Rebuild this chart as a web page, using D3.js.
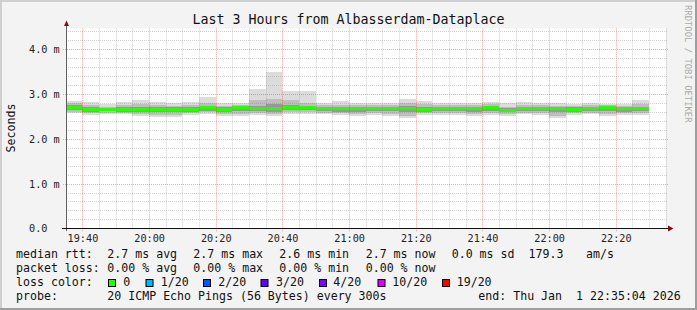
<!DOCTYPE html>
<html>
<head>
<meta charset="utf-8">
<script src="https://cdn.jsdelivr.net/npm/d3@7"></script>
<style>
body { margin: 0; background: #f3f3f3; }
svg { display: block; }
text { font-family: "DejaVu Sans Mono", monospace; }
</style>
</head>
<body>
<script>
const width = 697
const height = 310

// 5 minute bins, start time of each
const binTimes = ["19:35","19:40","19:45","19:50","19:55","20:00","20:05","20:10","20:15","20:20",
                  "20:25","20:30","20:35","20:40","20:45","20:50","20:55","21:00","21:05","21:10",
                  "21:15","21:20","21:25","21:30","21:35","21:40","21:45","21:50","21:55","22:00",
                  "22:05","22:10","22:15","22:20","22:25"]

// ping rtt in ms, per bin
const pMax   = [2.85,2.82,2.77,2.82,2.87,2.82,2.80,2.82,2.94,2.80,2.80,3.11,3.49,3.07,3.07,2.80,2.85,2.80,2.81,2.81,
                2.89,2.85,2.81,2.81,2.81,2.82,2.79,2.82,2.80,2.79,2.78,2.79,2.77,2.77,2.87]
const p90    = [2.79,2.75,2.72,2.76,2.78,2.75,2.74,2.75,2.80,2.74,2.76,2.86,2.88,2.87,2.80,2.75,2.76,2.75,2.76,2.76,
                2.80,2.77,2.76,2.75,2.76,2.78,2.72,2.76,2.75,2.74,2.74,2.75,2.75,2.74,2.78]
const p75    = [2.75,2.70,2.69,2.71,2.72,2.70,2.70,2.71,2.74,2.70,2.73,2.73,2.77,2.76,2.74,2.71,2.72,2.71,2.72,2.71,
                2.73,2.70,2.72,2.72,2.71,2.74,2.68,2.71,2.72,2.71,2.70,2.71,2.73,2.71,2.72]
const median = [2.71,2.66,2.66,2.66,2.66,2.66,2.66,2.66,2.69,2.66,2.69,2.68,2.67,2.71,2.69,2.67,2.67,2.67,2.67,2.68,
                2.68,2.66,2.68,2.68,2.67,2.69,2.64,2.67,2.68,2.67,2.66,2.67,2.69,2.67,2.67]
const p25    = [2.65,2.61,2.62,2.61,2.60,2.59,2.59,2.61,2.63,2.60,2.62,2.62,2.61,2.65,2.64,2.62,2.61,2.61,2.62,2.62,
                2.60,2.61,2.63,2.62,2.61,2.63,2.59,2.62,2.62,2.59,2.61,2.62,2.62,2.61,2.62]
const p10    = [2.61,2.57,2.58,2.58,2.56,2.53,2.53,2.57,2.59,2.55,2.56,2.57,2.56,2.60,2.59,2.58,2.57,2.56,2.57,2.56,
                2.52,2.57,2.58,2.57,2.56,2.57,2.55,2.58,2.57,2.52,2.57,2.58,2.56,2.57,2.57]
const pMin   = [2.58,2.53,2.55,2.55,2.52,2.49,2.49,2.53,2.55,2.50,2.51,2.53,2.51,2.55,2.55,2.55,2.53,2.52,2.53,2.51,
                2.47,2.53,2.54,2.53,2.51,2.53,2.52,2.55,2.53,2.47,2.54,2.55,2.52,2.53,2.54]

const xTickLabels = ["19:40","20:00","20:20","20:40","21:00","21:20","21:40","22:00","22:20"]
const yTickValues = [0, 1, 2, 3, 4]
const yTickLabels = ["0.0", "1.0 m", "2.0 m", "3.0 m", "4.0 m"]

const lossLabels = ["0", "1/20", "2/20", "3/20", "4/20", "10/20", "19/20"]
const lossColors = ["#26ff00", "#00b8ff", "#0059ff", "#5e00ff", "#7e00ff", "#dd00ff", "#ff0000"]

const smokeColors = ["#dcdcdc", "#bebebe", "#979797"]
const bg_color = "#f3f3f3"
const minor_grid = "rgba(130,130,130,0.35)"
const major_grid = "rgba(235,30,30,0.4)"
const arrow_color = "#7f1010"

const day = t => d3.timeParse("%Y-%m-%d %H:%M")("2026-01-01 " + t)
const tStart = new Date(2026, 0, 1, 19, 35, 4)
const tEnd = new Date(2026, 0, 1, 22, 35, 4)

const plotLeft = 66, plotRight = 666, plotTop = 28.3, plotBottom = 228.3

var x = d3.scaleTime().domain([tStart, tEnd]).range([plotLeft, plotRight])
var y = d3.scaleLinear().domain([0, 200 / 44.75]).range([plotBottom, plotTop])

var svg = d3.select("body").append("svg")
            .attr("width", width)
            .attr("height", height)

// background + shading frame
svg.append("rect").attr("width", width).attr("height", height).style("fill", bg_color)
svg.append("rect").attr("x", 0).attr("y", 0).attr("width", width).attr("height", 2).style("fill", "#cfcfcf")
svg.append("rect").attr("x", 0).attr("y", 0).attr("width", 2).attr("height", height).style("fill", "#cfcfcf")
svg.append("rect").attr("x", 0).attr("y", height - 2).attr("width", width).attr("height", 2).style("fill", "#9e9e9e")
svg.append("rect").attr("x", width - 2).attr("y", 0).attr("width", 2).attr("height", height).style("fill", "#9e9e9e")

// canvas
svg.append("rect")
   .attr("x", plotLeft).attr("y", 28)
   .attr("width", plotRight - plotLeft).attr("height", 200)
   .style("fill", "#ffffff")

svg.append("clipPath").attr("id", "plot")
   .append("rect").attr("x", plotLeft).attr("y", 28).attr("width", plotRight - plotLeft).attr("height", 201)

const bins = binTimes.map((t, i) => {
  const t0 = day(t)
  return {x0: Math.max(plotLeft, x(t0)), x1: x(d3.timeMinute.offset(t0, 5)), i: i}
})

var g = svg.append("g").attr("clip-path", "url(#plot)").attr("shape-rendering", "crispEdges")

// smoke layers, outer to inner
const layers = [[pMin, pMax], [p10, p90], [p25, p75]]
layers.forEach((pair, k) => {
  g.selectAll(null).data(bins).enter().append("rect")
   .attr("x", d => d.x0)
   .attr("width", d => d.x1 - d.x0)
   .attr("y", d => y(pair[1][d.i]))
   .attr("height", d => y(pair[0][d.i]) - y(pair[1][d.i]))
   .style("fill", smokeColors[k])
})

// median, coloured by loss (all 0 here)
g.selectAll(null).data(bins).enter().append("rect")
 .attr("x", d => d.x0)
 .attr("width", d => d.x1 - d.x0)
 .attr("y", d => y(median[d.i]) - 1.5)
 .attr("height", 3)
 .style("fill", lossColors[0])

// grid on top
var grid = svg.append("g")
const yMinor = d3.range(1, 23).map(k => k * 0.2).filter(v => Math.abs(v - Math.round(v)) > 0.01)
grid.selectAll(null).data(yMinor).enter().append("line")
    .attr("x1", plotLeft).attr("x2", plotRight + 2)
    .attr("y1", d => Math.round(y(d)) + 0.5).attr("y2", d => Math.round(y(d)) + 0.5)
    .style("stroke", minor_grid).style("stroke-dasharray", "1,1")

const xMinor = d3.timeMinute.every(5).range(tStart, tEnd).filter(t => t.getMinutes() % 20 != 0)
grid.selectAll(null).data(xMinor).enter().append("line")
    .attr("x1", d => Math.round(x(d)) + 0.5).attr("x2", d => Math.round(x(d)) + 0.5)
    .attr("y1", plotTop).attr("y2", plotBottom)
    .style("stroke", minor_grid).style("stroke-dasharray", "1,1")

grid.selectAll(null).data(yTickValues.slice(1)).enter().append("line")
    .attr("x1", plotLeft - 3).attr("x2", plotRight + 2)
    .attr("y1", d => Math.round(y(d)) + 0.5).attr("y2", d => Math.round(y(d)) + 0.5)
    .style("stroke", major_grid).style("stroke-dasharray", "1,1")

const xMajor = xTickLabels.map(day)
grid.selectAll(null).data(xMajor).enter().append("line")
    .attr("x1", d => Math.round(x(d)) + 0.5).attr("x2", d => Math.round(x(d)) + 0.5)
    .attr("y1", plotTop).attr("y2", plotBottom + 3)
    .style("stroke", major_grid).style("stroke-dasharray", "1,1")

// axes
svg.append("line")
   .attr("x1", plotLeft + 0.5).attr("x2", plotLeft + 0.5)
   .attr("y1", 24).attr("y2", 231)
   .style("stroke", "#606060")
svg.append("line")
   .attr("x1", 62).attr("x2", 669)
   .attr("y1", 228.5).attr("y2", 228.5)
   .style("stroke", "#111111")

svg.append("path")
   .attr("d", "M64,26 L66.5,20.5 L69,26 Z")
   .style("fill", arrow_color)
svg.append("path")
   .attr("d", "M668,225.5 L673.5,228.5 L668,231.5 Z")
   .style("fill", arrow_color)

// tick labels
svg.selectAll(null).data(xTickLabels).enter().append("text")
   .attr("x", d => x(day(d)) + 0.5)
   .attr("y", 241.5)
   .attr("text-anchor", "middle")
   .style("font-size", "10.2px")
   .style("fill", "#222")
   .text(d => d)

svg.selectAll(null).data(yTickValues).enter().append("text")
   .attr("x", 29)
   .attr("y", d => Math.round(y(d)) + 4)
   .style("font-size", "10.2px")
   .style("fill", "#222")
   .text((d, i) => yTickLabels[i])

// title, unit, watermark
svg.append("text")
   .attr("x", width / 2).attr("y", 24)
   .attr("text-anchor", "middle")
   .style("font-size", "13.3px")
   .style("fill", "#111")
   .text("Last 3 Hours from Albasserdam-Dataplace")

svg.append("text")
   .attr("transform", "translate(15,128) rotate(-90)")
   .attr("text-anchor", "middle")
   .style("font-size", "11.6px")
   .style("fill", "#111")
   .text("Seconds")

svg.append("text")
   .attr("transform", "translate(685,5) rotate(90)")
   .style("font-size", "8.9px")
   .style("fill", "#a9a9a9")
   .text("RRDTOOL / TOBI OETIKER")

// legend
const legendRows = [
  [[16, "median rtt:"], [107.3, "2.7 ms avg"], [193.3, "2.7 ms max"], [279.3, "2.6 ms min"],
   [365.7, "2.7 ms now"], [451.7, "0.0 ms sd"], [528.5, "179.3"], [586, "am/s"]],
  [[16, "packet loss:"], [107.3, "0.00 % avg"], [193.3, "0.00 % max"], [279.3, "0.00 % min"], [365.7, "0.00 % now"]],
  [[16, "loss color:"]],
  [[16, "probe:"], [107.3, "20 ICMP Echo Pings (56 Bytes) every 300s"], [478.3, "end: Thu Jan  1 22:35:04 2026"]]
]
const rowY = [258, 272, 286, 300]

legendRows.forEach((row, r) => {
  svg.selectAll(null).data(row).enter().append("text")
     .attr("x", d => d[0])
     .attr("y", rowY[r])
     .attr("xml:space", "preserve")
     .style("white-space", "pre")
     .style("font-size", "11.6px")
     .style("fill", "#111")
     .text(d => d[1])
})

const boxX = [108.5, 146, 203.5, 261, 319.5, 378, 442.5]
const lossTextX = [123.3, 160.7, 218.3, 276, 333.3, 392.3, 456.7]
svg.selectAll(null).data(lossColors).enter().append("rect")
   .attr("x", (d, i) => boxX[i]).attr("y", 279.5)
   .attr("width", 7).attr("height", 7)
   .style("fill", d => d)
   .style("stroke", "#000")
svg.selectAll(null).data(lossLabels).enter().append("text")
   .attr("x", (d, i) => lossTextX[i])
   .attr("y", rowY[2])
   .style("font-size", "11.6px")
   .style("fill", "#111")
   .text(d => d)
</script>
</body>
</html>
